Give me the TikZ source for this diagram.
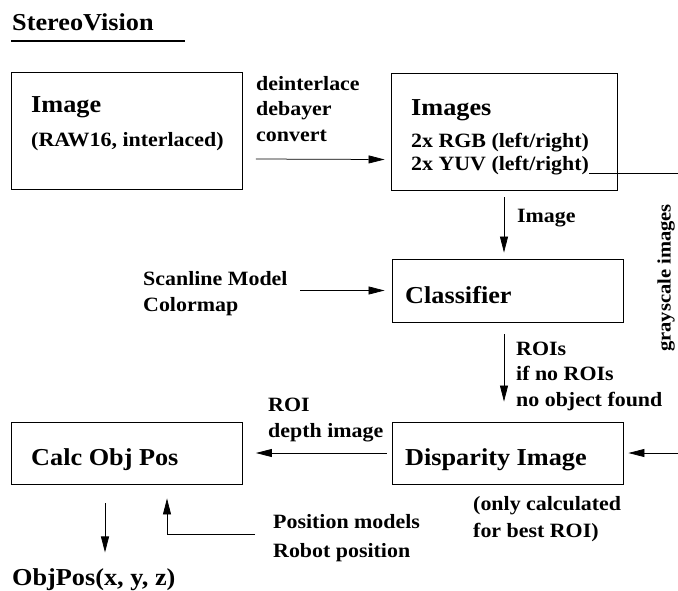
\documentclass[tikz,border=0pt]{standalone}
\usepackage{fontspec}
\setmainfont{Liberation Serif}[FakeStretch=1.08]
\usepackage{tikz}
\usetikzlibrary{positioning}
\usetikzlibrary{arrows.meta}

\begin{document}
\begin{tikzpicture} [x=1pt, y=-1pt, font=\bfseries,
    box/.style = {draw, line width=0.9pt, minimum width=231pt, inner sep=0pt},
    big/.style = {anchor=base west, inner sep=0pt, font=\fontsize{24.3}{28}\selectfont\bfseries},
    small/.style = {anchor=base west, inner sep=0pt, align=left, font=\fontsize{20.3}{25.5}\selectfont\bfseries},
    edge/.style = {-{Triangle[length=16pt, width=8pt]}, line width=0.75pt}]
    \useasboundingbox (0,0) rectangle (678,590);

    % title
    \node[big] (title) at (12,30) {StereoVision};
    \draw[line width=2.6pt] (11,41) -- (185,41);

    % boxes
    \node[box, minimum height=117pt] (img) at (127,131) {};
    \node[box, minimum width=226pt, minimum height=117pt] (imgs) at (504,131.5) {};
    \node[box, minimum height=63pt] (cls) at (507.5,290.5) {};
    \node[box, minimum height=62pt] (disp) at (507.5,453) {};
    \node[box, minimum height=62pt] (calc) at (127,453) {};

    % box texts
    \node[big] (imgT) at (31,112) {Image};
    \node[small] (imgR) at (31,146) {(RAW16, interlaced)};
    \node[big] (imgsT) at (411,115) {Images};
    \node[small] (rgb) at (411,147) {2x RGB (left/right)};
    \node[small] (yuv) at (411,170) {2x YUV (left/right)};
    \node[big] (clsT) at (405,303) {Classifier};
    \node[big] (dispT) at (405,465) {Disparity Image};
    \node[big] (calcT) at (31,465) {Calc Obj Pos};

    % labels (multi-line ones are placed by their last line)
    \node[small] (conv) at (256,141) {deinterlace\\debayer\\convert};
    \node[small] (lblImg) at (517,222) {Image};
    \node[small] (scan) at (143,311) {Scanline Model\\Colormap};
    \node[small] (rois) at (516,406) {ROIs\\if no ROIs\\no object found};
    \node[small] (depth) at (268,437) {ROI\\depth image};
    \node[small, font=\fontsize{20.3}{27}\selectfont\bfseries] (only) at (473,537) {(only calculated\\for best ROI)};
    \node[small] (posm) at (273,528) {Position models};
    \node[small] (robp) at (273,557) {Robot position};
    \node[big] (objpos) at (12,585) {ObjPos(x, y, z)};
    \node[inner sep=0pt, rotate=90, font=\fontsize{19}{26}\selectfont\bfseries] (gray) at (666,278) {grayscale images};

    % free ends at the right border
    \coordinate (grayA) at (678,173);
    \coordinate (grayB) at (678,453);

    % connectors
    \draw[edge] ([yshift=-28pt]img.east) ++(13,0) -- ([yshift=-28pt, xshift=-6pt]imgs.west);
    \draw[line width=0.75pt] (yuv.east |- grayA) -- (grayA);
    \draw[edge] ([yshift=-7pt]imgs.south) -- ([xshift=-3.5pt, yshift=6pt]cls.north);
    \draw[edge] ([xshift=157pt]scan.west |- cls.west) -- ([xshift=-7pt]cls.west);
    \draw[edge] ([xshift=-3.5pt, yshift=-12pt]cls.south) -- ([xshift=-3.5pt, yshift=20pt]disp.north);
    \draw[edge] (grayB) -- ([xshift=5pt]disp.east);
    \draw[edge] ([xshift=-5pt]disp.west) -- ([xshift=13pt]calc.east);
    \draw[edge] ([xshift=-22pt, yshift=-19pt]calc.south) -- ([xshift=-22pt, yshift=-68pt]calc.south);
    \draw[edge] ([xshift=-18pt, yshift=-6pt]posm.base west) -| ([xshift=40pt, yshift=-14pt]calc.south);
\end{tikzpicture}
\end{document}
